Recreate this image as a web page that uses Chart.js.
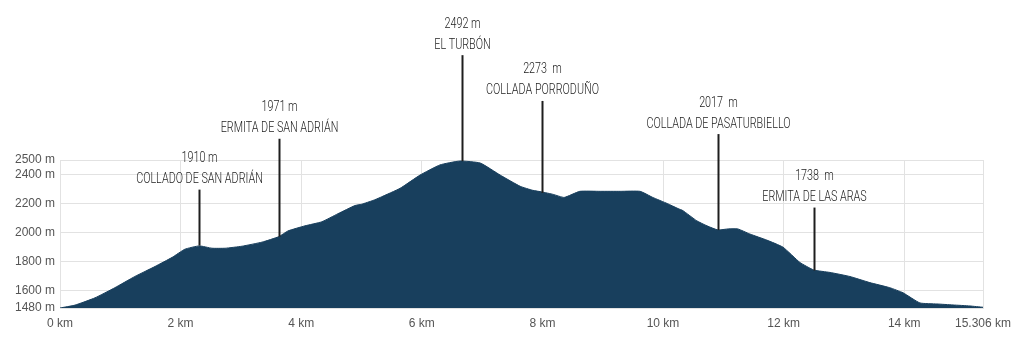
<!DOCTYPE html>
<html>
<head>
<meta charset="utf-8">
<script src="https://cdn.jsdelivr.net/npm/chart.js@4"></script>
<style>
  html, body { margin: 0; padding: 0; background: #ffffff; }
  #wrap { width: 1024px; height: 341px; }
</style>
</head>
<body>
<div id="wrap"><canvas id="c" width="1024" height="341"></canvas></div>
<script>
// ---- data ----
const distKm = [0, 0.25, 0.58, 0.91, 1.24, 1.41, 1.58, 1.86, 2.07, 2.31, 2.52, 2.74, 3.02, 3.35, 3.63,
  3.78, 4.06, 4.34, 4.61, 4.89, 5.0, 5.19, 5.31, 5.64, 5.97, 6.30, 6.63, 6.97, 7.30, 7.63, 7.84,
  7.99, 8.18, 8.36, 8.62, 8.96, 9.29, 9.62, 9.83, 10.07, 10.25, 10.33, 10.56, 10.73, 10.91,
  11.08, 11.24, 11.44, 11.72, 11.99, 12.27, 12.50, 12.77, 13.10, 13.43, 13.76, 13.98, 14.26,
  14.54, 14.81, 15.09, 15.306];
const elevM = [1480, 1500, 1550, 1620, 1697, 1732, 1767, 1829, 1885, 1908, 1892, 1892, 1906, 1934, 1972,
  2011, 2046, 2074, 2130, 2186, 2195, 2221, 2242, 2305, 2396, 2466, 2493, 2479, 2396, 2319, 2291,
  2280, 2263, 2242, 2284, 2284, 2284, 2284, 2242, 2200, 2165, 2151, 2081, 2046, 2018,
  2025, 2025, 1990, 1948, 1899, 1794, 1742, 1725, 1697, 1655, 1620, 1585, 1515,
  1508, 1501, 1494, 1485];

const xTicksKm = [0, 2, 4, 6, 8, 10, 12, 14, 15.306];
const yTicksM = [1480, 1600, 1800, 2000, 2200, 2400, 2500];

const calloutKm = [2.31, 3.63, 6.67, 8.0, 10.91, 12.5];
const calloutElev = [1910, 1971, 2492, 2273, 2017, 1738];
const calloutValue = ["1910 m", "1971 m", "2492 m", "2273  m", "2017  m", "1738  m"];
const calloutName = ["COLLADO DE SAN ADRIÁN", "ERMITA DE SAN ADRIÁN", "EL TURBÓN",
  "COLLADA PORRODUÑO", "COLLADA DE PASATURBIELLO", "ERMITA DE LAS ARAS"];

// ---- style / layout (not data) ----
const calloutLiftPx = [56, 98, 106, 92, 96, 63];
const FILL = '#183f5d';
const GRID = '#e2e2e2';
const TICK = '#555555';
const LABEL_FONT = 'Roboto, "Liberation Sans", sans-serif';
const LABEL_SQUEEZE = 0.77;

const points = distKm.map((d, i) => ({ x: d, y: elevM[i] }));

function squeezedText(ctx, text, x, y) {
  ctx.save();
  ctx.translate(x, y);
  ctx.scale(LABEL_SQUEEZE, 1);
  ctx.fillText(text, 0, 0);
  ctx.restore();
}

const calloutPlugin = {
  id: 'callouts',
  afterDatasetsDraw(chart) {
    const { ctx, scales } = chart;
    ctx.save();
    for (let i = 0; i < calloutKm.length; i++) {
      const x = Math.round(scales.x.getPixelForValue(calloutKm[i])) + 0.5;
      const yb = scales.y.getPixelForValue(calloutElev[i]);
      const yt = yb - calloutLiftPx[i];
      ctx.strokeStyle = '#1e1e1e';
      ctx.lineWidth = 2;
      ctx.beginPath();
      ctx.moveTo(x, yb);
      ctx.lineTo(x, yt);
      ctx.stroke();
      ctx.fillStyle = '#222222';
      ctx.textAlign = 'center';
      ctx.textBaseline = 'middle';
      ctx.font = '300 14px ' + LABEL_FONT;
      squeezedText(ctx, calloutName[i], x, yt - 10);
      squeezedText(ctx, calloutValue[i], x, yt - 31);
    }
    ctx.restore();
  }
};

new Chart(document.getElementById('c'), {
  type: 'line',
  data: {
    datasets: [{
      data: points,
      fill: 'start',
      backgroundColor: FILL,
      borderColor: FILL,
      borderWidth: 1,
      pointRadius: 0,
      tension: 0.15
    }]
  },
  options: {
    responsive: false,
    animation: false,
    events: [],
    layout: { padding: { top: 160, right: 41, left: 0, bottom: 0 } },
    plugins: { legend: { display: false }, tooltip: { enabled: false } },
    scales: {
      x: {
        type: 'linear',
        min: 0,
        max: 15.306,
        afterBuildTicks(scale) { scale.ticks = xTicksKm.map(v => ({ value: v })); },
        afterFit(scale) { scale.height = 33; },
        grid: { color: GRID, drawTicks: false },
        border: { color: GRID },
        ticks: {
          autoSkip: false,
          maxRotation: 0,
          padding: 8,
          color: TICK,
          font: { family: '"Liberation Sans", Arial, sans-serif', size: 12 },
          callback: v => v + ' km'
        }
      },
      y: {
        min: 1480,
        max: 2500,
        afterBuildTicks(scale) { scale.ticks = yTicksM.map(v => ({ value: v })); },
        afterFit(scale) { scale.width = 60; },
        grid: { color: GRID, drawTicks: false },
        border: { color: GRID },
        ticks: {
          autoSkip: false,
          padding: 5,
          color: TICK,
          font: { family: '"Liberation Sans", Arial, sans-serif', size: 12 },
          callback: v => v + ' m'
        }
      }
    }
  },
  plugins: [calloutPlugin]
});
</script>
</body>
</html>
